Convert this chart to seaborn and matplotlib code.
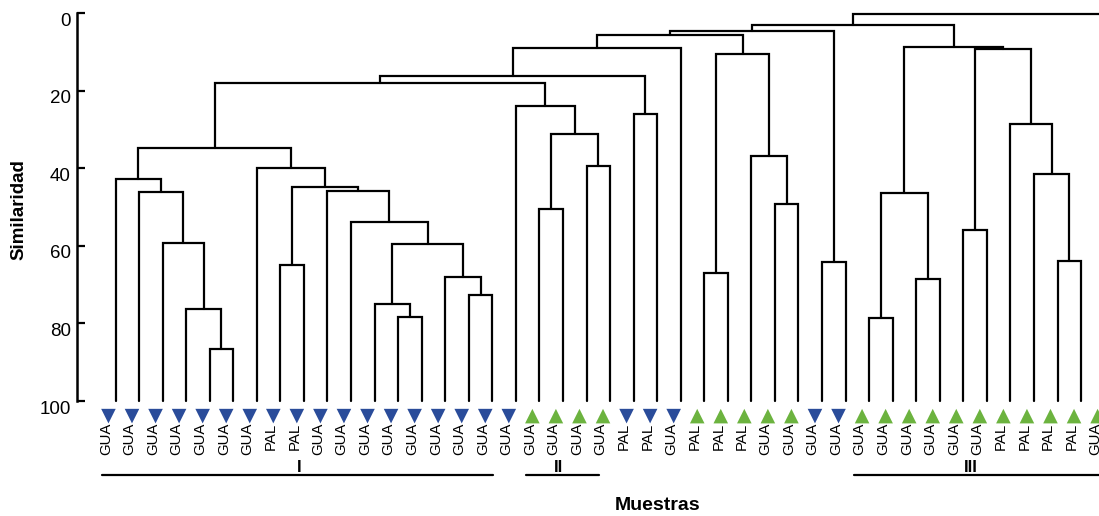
import numpy as np
import pandas as pd
import matplotlib
matplotlib.use("Agg")
import matplotlib.pyplot as plt
import matplotlib.transforms as mtransforms
import seaborn as sns

# hojas del dendrograma (orden de izquierda a derecha)
etiquetas = ["GUA", "GUA", "GUA", "GUA", "GUA", "GUA", "GUA", "PAL", "PAL", "GUA",
             "GUA", "GUA", "GUA", "GUA", "GUA", "GUA", "GUA", "GUA", "GUA", "GUA",
             "GUA", "GUA", "PAL", "PAL", "GUA", "PAL", "PAL", "PAL", "GUA", "GUA",
             "GUA", "GUA", "GUA", "GUA", "GUA", "GUA", "GUA", "GUA", "PAL", "PAL",
             "PAL", "PAL", "GUA"]
simbolo = ["abajo"] * 18 + ["arriba"] * 4 + ["abajo"] * 3 + ["arriba"] * 5 + \
          ["abajo"] * 2 + ["arriba"] * 11

# uniones: nodo izquierdo, nodo derecho, similaridad (nodos nuevos = 43, 44, ...)
union_izq = [4, 3, 2, 1, 0, 7, 12, 11, 15, 14, 50, 10, 9, 48, 6, 47, 18, 20, 59, 17, 58,
             22, 63, 65, 25, 28, 27, 67, 66, 30, 71, 32, 34, 74, 36, 40, 39, 38, 77, 76, 73, 83]
union_der = [5, 43, 44, 45, 46, 8, 13, 49, 16, 51, 52, 53, 54, 55, 56, 57, 19, 21, 60, 61, 62,
             23, 64, 24, 26, 29, 68, 69, 70, 31, 72, 33, 35, 75, 37, 41, 78, 79, 80, 81, 82, 42]
union_sim = [86.6, 76.3, 59.2, 46.1, 42.7, 64.8, 78.3, 75.0, 72.7, 68.0, 59.4, 53.8, 45.8,
             44.9, 40.0, 34.8, 50.6, 39.4, 31.1, 23.9, 18.1, 26.0, 16.3, 9.0, 67.1, 49.2,
             36.8, 10.4, 5.5, 64.1, 4.6, 78.7, 68.6, 46.3, 55.9, 63.8, 41.5, 28.6, 9.2,
             8.6, 3.0, 0.2]

grupos = ["I", "II", "III"]
grupo_ini = [-0.56, 17.43, 31.37]
grupo_fin = [16.04, 20.54, 45.0]
grupo_txt = [7.79, 18.79, 36.3]

sns.set_style("white")
plt.rcParams["font.family"] = ["Liberation Sans", "DejaVu Sans"]
plt.rcParams["text.color"] = "black"
plt.rcParams["axes.labelcolor"] = "black"
plt.rcParams["ytick.color"] = "black"

fig = plt.figure(figsize=(10.99, 5.16), dpi=100)
ax = fig.add_axes([77 / 1099, 1 - 401 / 516, 1 - 77 / 1099, (401 - 13.3) / 516])

# dendrograma
pos = [(float(i), 100.0) for i in range(len(etiquetas))]
for izq, der, h in zip(union_izq, union_der, union_sim):
    xl, yl = pos[izq]
    xr, yr = pos[der]
    ax.plot([xl, xl, xr, xr], [yl, h, h, yr], color="black", lw=1.6,
            solid_joinstyle="miter", clip_on=False)
    pos.append(((xl + xr) / 2, h))

# marcadores de las muestras
hojas = pd.DataFrame({"x": np.arange(len(etiquetas)) - 0.3,
                      "y": 103.9, "tipo": simbolo})
sns.scatterplot(data=hojas, x="x", y="y", hue="tipo", style="tipo",
                markers={"abajo": "v", "arriba": "^"},
                palette={"abajo": "#2a4c9a", "arriba": "#6cb33f"},
                s=110, linewidth=0, legend=False, clip_on=False, ax=ax)

for i, et in enumerate(etiquetas):
    ax.text(i - 0.4, 105.7, et, rotation=90, ha="center", va="top",
            fontsize=10.8, color="black", clip_on=False)

# grupos I, II, III
for g, a, b, t in zip(grupos, grupo_ini, grupo_fin, grupo_txt):
    ax.plot([a, b], [119.1, 119.1], color="black", lw=1.6, clip_on=False)
    ax.text(t, 119.1, g, ha="center", va="bottom", fontsize=12,
            fontweight="bold", color="black", clip_on=False)

ax.set_xlim(-1.635, 41.76)
ax.set_ylim(100, 0)
ax.set_xticks([])
ax.set_xlabel("")
ax.set_ylabel("")
ax.set_yticks([0, 20, 40, 60, 80, 100])
ax.tick_params(axis="y", direction="in", length=6, width=1.6, pad=4.5,
               labelsize=13.5, left=True, colors="black")
for sp in ["top", "right", "bottom"]:
    ax.spines[sp].set_visible(False)
ax.spines["left"].set_linewidth(1.8)
ax.spines["left"].set_color("black")
ax.patch.set_alpha(0)

desplaza = mtransforms.ScaledTranslation(0, -0.06, fig.dpi_scale_trans)
for lab in ax.get_yticklabels():
    lab.set_transform(lab.get_transform() + desplaza)

fig.text(19 / 1099, 1 - 210 / 516, "Similaridad", rotation=90, ha="center",
         va="center", fontsize=13.5, fontweight="bold", color="black")
fig.text(658 / 1099, 1 - 505 / 516, "Muestras", ha="center", va="center",
         fontsize=14, fontweight="bold", color="black")

fig.savefig("out.png", dpi=100)
